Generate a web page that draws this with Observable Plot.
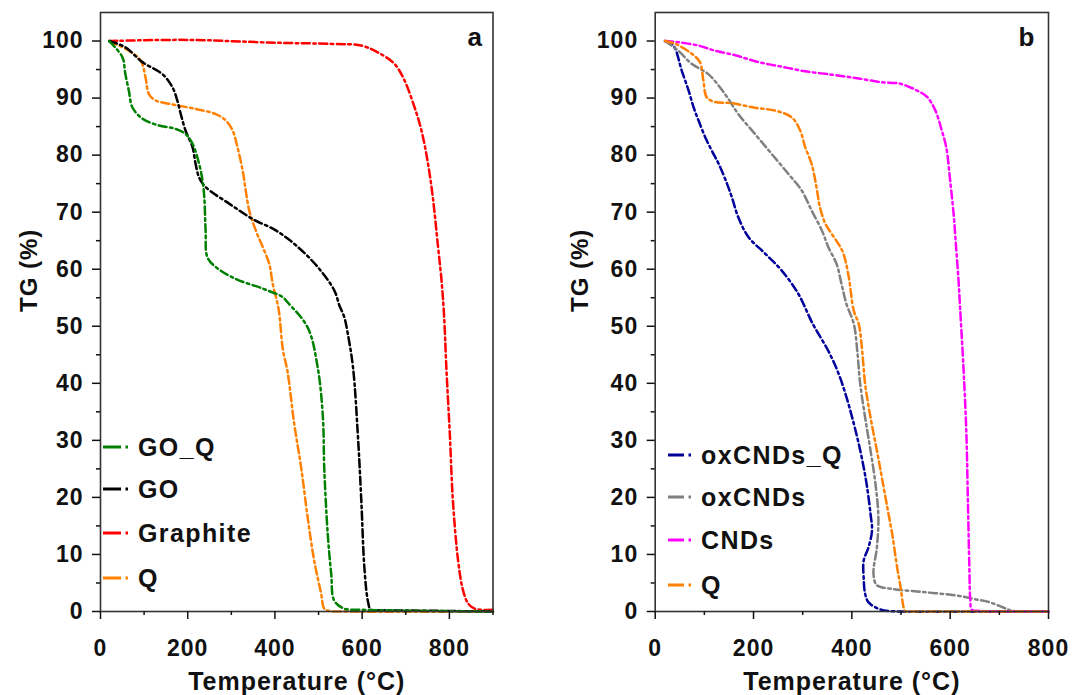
<!DOCTYPE html>
<html><head><meta charset="utf-8">
<script src="https://cdn.jsdelivr.net/npm/d3@7"></script>
<script src="https://cdn.jsdelivr.net/npm/@observablehq/plot@0.6"></script>
<style>
body{margin:0;background:#fff;}
#fig{position:relative;width:1072px;height:695px;overflow:hidden;font-family:"Liberation Sans",Arial,sans-serif;background:#fff;}
.panel{position:absolute;top:0;}
.row{position:absolute;display:flex;align-items:center;height:30px;font-weight:bold;font-size:25px;letter-spacing:1.4px;color:#111;white-space:nowrap;}
.row svg{display:block;}
</style>
</head><body><div id="fig"></div>
<script>
// ---------- Panel a data ----------
const T_GOQ  = [20, 50, 57, 65, 73, 96, 134, 172, 195, 211, 226, 234, 238, 241, 245, 264, 310, 372, 418, 429, 475, 498, 510, 513, 521, 529, 536, 559, 600, 644, 900];
const TG_GOQ = [100, 97.2, 94.2, 91.3, 88.4, 86.4, 85.2, 84.6, 83.7, 82, 78.5, 75.5, 72.6, 66.8, 62.1, 60.4, 58.3, 56.6, 55.1, 54.2, 49.8, 42.8, 34, 25.3, 13.6, 6.6, 1.9, 0.5, 0.3, 0.2, 0];

const T_GO  = [20, 57, 96, 142, 165, 176, 184, 195, 211, 218, 226, 241, 295, 349, 402, 448, 498, 536, 548, 559, 567, 579, 590, 598, 605, 613, 620, 640, 660, 900];
const TG_GO = [100, 98.9, 96.3, 94.2, 91.9, 89.6, 87.2, 84.3, 81.4, 78.5, 76.1, 74.4, 71.5, 68.8, 66.8, 64.2, 60.4, 56.3, 53.6, 51.6, 48.7, 42.8, 31.1, 19.5, 7.8, 1.9, 0.3, 0.2, 0.2, 0];

const T_GRA  = [20, 200, 400, 530, 598, 636, 674, 697, 720, 736, 751, 762, 774, 782, 788, 793, 801, 808, 820, 831, 843, 858, 875, 900];
const TG_GRA = [100, 100.2, 99.7, 99.5, 99.2, 98, 96, 93.1, 88.4, 84.3, 78.5, 72.6, 63.9, 58, 51.6, 42.8, 31.1, 19.5, 8.9, 3.8, 1.4, 0.5, 0.3, 0.3];

const T_QA  = [20, 65, 92, 103, 111, 126, 157, 218, 264, 287, 303, 314, 326, 333, 341, 356, 372, 387, 395, 406, 410, 418, 429, 444, 460, 475, 490, 506, 513, 525, 560, 900];
const TG_QA = [100, 98.3, 96.6, 93.7, 90.7, 89.6, 89, 88.1, 87.2, 86.1, 84.3, 81.4, 77.3, 73.8, 70.3, 66.8, 63.9, 60.9, 57.4, 53.9, 52.2, 46, 42, 33, 25.3, 16.5, 8.9, 3.1, 0.5, 0.1, 0, 0];

// ---------- Panel b data ----------
const T_OXQ  = [20, 37, 54, 68, 78, 88, 102, 115, 129, 146, 156, 169, 190, 224, 257, 291, 320, 352, 373, 390, 404, 414, 424, 431, 438, 441, 434, 424, 424, 427, 434, 451, 465, 500, 800];
const TG_OXQ = [100, 99.2, 94.8, 91.3, 88.4, 86.1, 83.1, 80.8, 78.5, 75, 72.6, 69.1, 65.6, 62.7, 59.8, 55.7, 50.5, 45.7, 41.7, 37.3, 32.9, 29.4, 25.3, 21.8, 17.1, 14.2, 11.3, 8.9, 6, 3.1, 1.6, 0.6, 0.2, 0, 0];

const T_OX  = [20, 47, 74, 108, 142, 169, 203, 237, 271, 298, 318, 339, 352, 369, 379, 389, 404, 411, 417, 427, 438, 448, 454, 451, 444, 451, 478, 546, 614, 648, 681, 708, 723, 750, 800];
const TG_OX = [100, 98.3, 96, 94.2, 90.7, 87.2, 83.7, 80.2, 76.7, 73.8, 70.3, 66.8, 63.9, 60.9, 57.4, 53.9, 50.4, 45.7, 39.9, 34, 28.2, 22.4, 16.5, 11.3, 6.6, 4.6, 4, 3.4, 2.8, 2.2, 1.6, 0.7, 0.2, 0, 0];

const T_CND  = [20, 47, 88, 122, 163, 210, 257, 305, 359, 393, 417, 458, 499, 533, 553, 570, 583, 592, 600, 607, 612, 617, 620, 627, 633, 636, 639, 641, 644, 660, 700, 800];
const TG_CND = [100, 99.8, 99.2, 98.3, 97.5, 96.3, 95.5, 94.7, 94.1, 93.7, 93.4, 92.8, 92.5, 91.3, 90.2, 87.8, 84.3, 81.4, 75.5, 69.7, 63.9, 58, 53.5, 42.8, 31.1, 19.5, 7.8, 1.9, 0.3, 0.1, 0, 0];

const T_QB  = [20, 41, 74, 91, 98, 105, 122, 156, 203, 244, 278, 295, 305, 318, 328, 335, 346, 359, 373, 383, 393, 404, 414, 421, 427, 438, 451, 461, 472, 482, 492, 499, 505, 508, 520, 560, 800];
const TG_QB = [100, 99.5, 97.8, 96.3, 93.1, 90.1, 89.3, 89.1, 88.3, 87.8, 86.6, 84.3, 81.4, 78.5, 74.4, 70.9, 68, 66.2, 64.4, 62.7, 59, 52.7, 50.4, 45.7, 39.9, 34, 28.2, 23.5, 18.3, 13.6, 7.8, 4.3, 0.8, 0.1, 0, 0, 0];

// ---------- ticks ----------
const yMajor = [0, 10, 20, 30, 40, 50, 60, 70, 80, 90, 100];
const yMinor = [5, 15, 25, 35, 45, 55, 65, 75, 85, 95];
const xMajorA = [0, 200, 400, 600, 800];
const xMinorA = [100, 300, 500, 700, 900];
const xMajorB = [0, 200, 400, 600, 800];
const xMinorB = [100, 300, 500, 700];

const seriesA = [
  {name: "GO_Q", color: "#008000", T: T_GOQ, TG: TG_GOQ},
  {name: "GO", color: "#000000", T: T_GO, TG: TG_GO},
  {name: "Graphite", color: "#FF0000", T: T_GRA, TG: TG_GRA},
  {name: "Q", color: "#FF8000", T: T_QA, TG: TG_QA}
];
const drawOrderA = ["Q", "Graphite", "GO", "GO_Q"];
const seriesB = [
  {name: "oxCNDs_Q", color: "#00009A", T: T_OXQ, TG: TG_OXQ},
  {name: "oxCNDs", color: "#808080", T: T_OX, TG: TG_OX},
  {name: "CNDs", color: "#FF00FF", T: T_CND, TG: TG_CND},
  {name: "Q", color: "#FF8000", T: T_QB, TG: TG_QB}
];
const drawOrderB = ["oxCNDs_Q", "oxCNDs", "CNDs", "Q"];

const DASH = "8,3.5,2.5,3.5";

function makePanel(cfg) {
  const marks = [];
  for (const nm of cfg.order) {
    const s = cfg.series.find(d => d.name === nm);
    const data = s.T.map((t, i) => ({T: t, TG: s.TG[i]}));
    marks.push(Plot.line(data, {x: "T", y: "TG", stroke: s.color, strokeWidth: 2.5, strokeDasharray: DASH, curve: "catmull-rom"}));
  }
  marks.push(Plot.frame({stroke: "#333", strokeWidth: 1.6}));
  marks.push(Plot.axisY({ticks: yMajor, tickSize: 8, tickPadding: 9, fontSize: 23, fontWeight: "bold", label: null, strokeWidth: 1.5}));
  marks.push(Plot.axisY({ticks: yMinor, tickSize: 4, tickFormat: () => "", label: null, strokeWidth: 1.5}));
  marks.push(Plot.axisX({ticks: cfg.xMajor, tickSize: 8, tickPadding: 20, fontSize: 23, fontWeight: "bold", label: null, strokeWidth: 1.5}));
  marks.push(Plot.axisX({ticks: cfg.xMinor, tickSize: 4, tickFormat: () => "", label: null, strokeWidth: 1.5}));
  marks.push(Plot.text(["TG (%)"], {frameAnchor: "left", dx: cfg.yLabelDx, rotate: -90, fontSize: 24, fontWeight: "bold"}));
  marks.push(Plot.text(["Temperature (°C)"], {frameAnchor: "bottom", dy: 70, fontSize: 25, fontWeight: "bold", lineAnchor: "middle"}));
  marks.push(Plot.text([cfg.letter], {frameAnchor: "top-right", dx: cfg.letterDx, dy: 15, fontSize: 26, fontWeight: "bold", textAnchor: "end", lineAnchor: "top"}));
  return Plot.plot({
    width: 536, height: 695,
    marginLeft: cfg.mL, marginRight: cfg.mR, marginTop: 12, marginBottom: 84,
    x: {domain: cfg.xDomain, axis: null},
    y: {domain: [0, 105], axis: null},
    style: {fontFamily: "'Liberation Sans', Arial, sans-serif", letterSpacing: "1px", color: "#111", background: "transparent", overflow: "visible"},
    marks
  });
}

const fig = document.getElementById("fig");
const pa = makePanel({series: seriesA, order: drawOrderA, xDomain: [0, 900], xMajor: xMajorA, xMinor: xMinorA, mL: 100, mR: 43.5, yLabelDx: -71, letter: "a", letterDx: -10});
pa.classList.add("panel"); pa.style.left = "0px";
fig.appendChild(pa);
const pb = makePanel({series: seriesB, order: drawOrderB, xDomain: [0, 800], xMajor: xMajorB, xMinor: xMinorB, mL: 118.7, mR: 24, yLabelDx: -75, letter: "b", letterDx: -13});
pb.classList.add("panel"); pb.style.left = "536px";
fig.appendChild(pb);

// ---------- legends ----------
const legendA = {x: 103, textX: 138, ys: [447, 489, 533, 578], dash: 18};
const legendB = {x: 668, textX: 701, ys: [455, 497, 540, 585], dash: 16};
function addLegend(series, L) {
  series.forEach((s, i) => {
    const row = document.createElement("div");
    row.className = "row";
    row.style.left = L.x + "px";
    row.style.top = (L.ys[i] - 15) + "px";
    const w = L.textX - L.x;
    row.innerHTML = `<svg width="${w}" height="10"><path d="M0,5H${L.dash}M${L.dash + 4.5},5H${L.dash + 7}" stroke="${s.color}" stroke-width="3" fill="none"/></svg><span>${s.name}</span>`;
    fig.appendChild(row);
  });
}
addLegend(seriesA, legendA);
addLegend(seriesB, legendB);
</script>
</body></html>
